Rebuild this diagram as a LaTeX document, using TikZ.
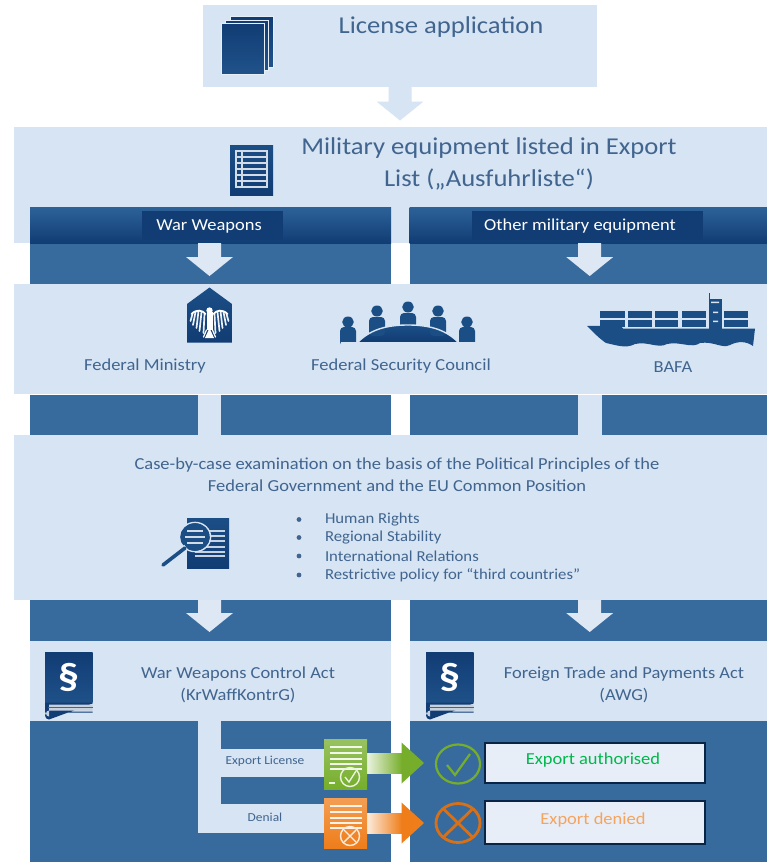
\documentclass[tikz,border=0pt]{standalone}
\usepackage{fontspec}
\setmainfont[FakeStretch=1.1]{Carlito}
\usetikzlibrary{calc}
\definecolor{lightb}{HTML}{D6E4F3}
\definecolor{arrowb}{HTML}{DDE8F4}
\definecolor{midb}{HTML}{376B9E}
\definecolor{darkb}{HTML}{113C74}
\definecolor{topb}{HTML}{2C6297}
\definecolor{txtb}{HTML}{41658F}
\definecolor{icon}{HTML}{1C4E86}
\definecolor{grn}{HTML}{76AE2B}
\definecolor{org}{HTML}{EF7D1A}
\definecolor{paper}{HTML}{E8EEF8}
\newcommand\rectnode[6]{\node[#6,anchor=north west,minimum width={(#4-#2)*1pt},minimum height={(#5-#3)*1pt}] (#1) at (#2,#3) {};}
% vertical block arrow from coordinate to coordinate
\newcommand\blockdown[3]{\fill[#1] let \p1=(#2),\p2=(#3) in (\x1-11.5pt,\y1) -- (\x1+11.5pt,\y1) -- (\x1+11.5pt,\y2+19pt) -- (\x1+23.5pt,\y2+19pt) -- (\x2,\y2) -- (\x1-23.5pt,\y2+19pt) -- (\x1-11.5pt,\y2+19pt) -- cycle;}
% horizontal result arrow
\newcommand\blockright[3]{
 \shade[left color=white!85!#1,right color=#1,shading angle=90,draw=none] let \p1=(#2),\p2=(#3) in (\x1,\y1+10pt) rectangle (\x2-22pt,\y1-10pt);
 \fill[#1] let \p1=(#2),\p2=(#3) in (\x2-22.5pt,\y2+20.5pt) -- (\x2,\y2) -- (\x2-22.5pt,\y2-20.5pt) -- cycle;}
% law book icon
\newcommand\lawbook[3]{
 \begin{scope}[shift={(#2,#3)}]
 \shade[top color=darkb,bottom color=icon!90!midb] (0,0) rectangle (47.5,50);
 \fill[darkb] (47.5,50) -- (0,50) -- (0,60) -- (47.5,60) -- (47.5,59) -- (4,59) arc[start angle=-90,end angle=-270,radius=4] -- (47.5,51) -- cycle;
 \fill[white!70!txtb] (4,52) -- (47.5,52) -- (47.5,58) -- (4,58) arc[start angle=-90,end angle=-270,radius=3] -- cycle;
 \draw[txtb,line width=1pt] (2.5,55) -- (47.5,55);
 \node[font=\bfseries\fontsize{38}{38}\selectfont,text=white,inner sep=0pt] (#1) at (23.5,25) {§};
 \end{scope}}
% certificate icon
\newcommand\certificate[6]{
 \begin{scope}[shift={(#2,#3)}]
 \shade[top color=#4!75!white,bottom color=#4] (0,0) rectangle (43,50);
 \foreach \yy in {8,14,20,25,30} \draw[white!90!#4,line width=1.3pt] (6,\yy) -- (38,\yy);
 \node[draw=white!85!#4,line width=1.4pt,circle,minimum size=19pt,inner sep=0pt] (#1) at (26,38) {};
 \draw[white!85!#4,line width=1.4pt] #5;
 #6
 \end{scope}}
\begin{document}
\begin{tikzpicture}[x=1pt,y=-1pt,
  every node/.style={inner sep=0pt,outer sep=0pt},
  lightbox/.style={fill=lightb,draw=none},
  midbox/.style={fill=midb,draw=none},
  headband/.style={top color=topb,bottom color=darkb,draw=none},
  labelbox/.style={fill=darkb,draw=none},
  result/.style={fill=paper,draw=darkb!60!black,line width=1.4pt},
  txt/.style={text=txtb,align=center,font=\fontsize{16.8}{22}\selectfont},
  bigtxt/.style={text=txtb,align=center,font=\fontsize{24.2}{32}\selectfont},
  smalltxt/.style={text=txtb,font=\fontsize{12.2}{14}\selectfont},
  wtxt/.style={text=white,font=\fontsize{16.8}{18}\selectfont},
  bullettxt/.style={text=txtb,anchor=west,font=\fontsize{15.2}{17}\selectfont},
]
\useasboundingbox (0,0) rectangle (767,862);
\fill[white] (0,0) rectangle (767,862);

% Main blocks
\rectnode{app}{203}{4.7}{597}{86.5}{lightbox}
\rectnode{mil}{14}{127}{767}{243}{lightbox}
\rectnode{bandL}{30}{243}{391}{284}{midbox}
\rectnode{bandR}{409.5}{243}{767}{284}{midbox}
\rectnode{headL}{30}{207.5}{391}{243}{headband}
\rectnode{headR}{409.5}{207.5}{767}{243}{headband}
\rectnode{labL}{142}{210.5}{283}{240}{labelbox}
\rectnode{labR}{472}{210.5}{703}{240}{labelbox}
\rectnode{auth}{14}{284}{767}{394}{lightbox}
\rectnode{b1}{30}{394.5}{198}{435}{midbox}
\rectnode{b2}{221}{394.5}{391}{435}{midbox}
\rectnode{b3}{409.5}{394.5}{578}{435}{midbox}
\rectnode{b4}{601.5}{394.5}{767}{435}{midbox}
\rectnode{linkL}{198}{394.5}{221}{435}{lightbox}
\rectnode{linkR}{578}{394.5}{601.5}{435}{lightbox}
\rectnode{exam}{14}{435}{767}{600}{lightbox}
\rectnode{lawbandL}{30}{600}{391}{641}{midbox}
\rectnode{lawbandR}{409.5}{600}{767}{641}{midbox}
\rectnode{lawL}{30}{641}{391}{721}{lightbox}
\rectnode{lawR}{409.5}{641}{767}{721}{lightbox}
\rectnode{footL}{30}{721}{391}{862}{midbox}
\rectnode{footR}{409.5}{721}{767}{862}{midbox}

% Light branch bars
\rectnode{trunk}{198}{721}{221}{832.7}{lightbox}
\rectnode{lic}{221}{748.6}{326}{776.5}{lightbox}
\rectnode{den}{221}{804}{326}{832.7}{lightbox}

% Block arrows
\coordinate (a1s) at (400,86.5); \coordinate (a1e) at (400,120.5);
\blockdown{lightb}{a1s}{a1e}
\coordinate (a2s) at (209.5,243); \coordinate (a2e) at (209.5,276);
\blockdown{arrowb}{a2s}{a2e}
\coordinate (a3s) at (589.7,243); \coordinate (a3e) at (589.7,276);
\blockdown{arrowb}{a3s}{a3e}
\coordinate (a4s) at (209.5,600); \coordinate (a4e) at (209.5,632);
\blockdown{arrowb}{a4s}{a4e}
\coordinate (a5s) at (589.7,600); \coordinate (a5e) at (589.7,632);
\blockdown{arrowb}{a5s}{a5e}

% Texts
\node[bigtxt] (tapp) at (441,27) {License application};
\node[bigtxt] (tmil) at (489,164) {Military equipment listed in Export\\List („Ausfuhrliste“)};
\node[wtxt] (tlabL) at (209,226.5) {War Weapons};
\node[wtxt] (tlabR) at (580,226.5) {Other military equipment};
\node[txt] (tfm) at (145,366.5) {Federal Ministry};
\node[txt] (tfsc) at (401,366.5) {Federal Security Council};
\node[txt] (tbafa) at (673,367) {BAFA};
\node[txt] (tcase) at (397,474.5) {Case-by-case examination on the basis of the Political Principles of the\\Federal Government and the EU Common Position};
\foreach \yy/\nm/\tt in {519.5/h/Human Rights,537.5/r/Regional Stability,556/i/International Relations,575/p/Restrictive policy for “third countries”}{
  \fill[txtb] (299,\yy) circle (2.4);
  \node[bullettxt] (t\nm) at (325,\yy) {\tt};
}
\node[txt] (twl) at (238,684.5) {War Weapons Control Act\\(KrWaffKontrG)};
\node[txt] (tfl) at (624,684.5) {Foreign Trade and Payments Act\\(AWG)};
\node[smalltxt] (tlic) at (265,761) {Export License};
\node[smalltxt] (tden) at (265,817) {Denial};

% Result boxes
\node[result,anchor=north west,minimum width=220pt,minimum height=40pt] (rok) at (485,743) {};
\node[result,anchor=north west,minimum width=220pt,minimum height=43pt] (rno) at (485,801) {};
\node[text=green!60!black!70!cyan,font=\fontsize{16.8}{18}\selectfont] (tok) at (593,760) {Export authorised};
\node[text=org!70!white,font=\fontsize{16.8}{18}\selectfont] (tno) at (593,820) {Export denied};

% Result arrows
\coordinate (g1) at (367,763); \coordinate (g2) at (424,763);
\blockright{grn}{g1}{g2}
\coordinate (o1) at (367,823); \coordinate (o2) at (424,823);
\blockright{org}{o1}{o2}

% Certificates
\certificate{cg}{324}{739}{grn}{(21,38) -- (25,43) -- (32,32)}{\draw[white!85!grn,line width=1.3pt] (5,44) -- (11,44);}
\certificate{co}{324}{798}{org}{(20,32) -- (32,44) (32,32) -- (20,44)}{}

% Status circles
\draw[grn,line width=2.2pt] (458,764) ellipse (22 and 19.5);
\draw[grn,line width=2.2pt] (447,765) -- (455,775) -- (470,754);
\draw[org!90!black,line width=2.8pt] (458,823) ellipse (22 and 19.5);
\draw[org!90!black,line width=2.8pt] (443,808.5) -- (473,837.5) (473,808.5) -- (443,837.5);

% Documents icon
\foreach \dx/\dy in {9/-7,4.5/-3.5,0/0}{
  \shade[top color=darkb,bottom color=icon!85!midb,draw=white!40!lightb,line width=.9pt] (221+\dx,23.5+\dy) rectangle (264+\dx,74+\dy);
}

% List icon
\shade[top color=icon,bottom color=darkb] (230,145) rectangle (273,195);
\draw[white!80!icon,line width=1.1pt] (236,151) rectangle (267,187);
\draw[white!80!icon,line width=1.1pt] (242,151) -- (242,187);
\foreach \yy in {157,163,169,175,181} \draw[white!80!icon,line width=1.1pt] (236,\yy) -- (267,\yy);

% Ministry icon (shield with eagle)
\shade[top color=icon,bottom color=darkb] (209.5,287.5) -- (232,304) -- (232,342.5) -- (187,342.5) -- (187,304) -- cycle;
\fill[white] (209.5,310.5) circle (3.2);
\fill[white] (206.5,312) rectangle (212.5,330);
\fill[white] (209.5,328) -- (214,338) -- (205,338) -- cycle;
\foreach \s in {-1,1}{
 \begin{scope}[shift={(209.5,0)},xscale=\s]
 \foreach \xa/\ya/\xb/\yb in {5/314/6/333,8/312/10/331,11/311/13/328,14/312/16.5/325,17/314/19/321}
   \draw[white!92!icon,line width=1.7pt,line cap=round] (\xa,\ya) -- (\xb,\yb);
 \draw[white,line width=1.8pt,line cap=round] (4,314) .. controls (7,310) and (13,309) .. (18,314);
 \draw[white,line width=1.2pt,line cap=round] (3,330) -- (6,337);
 \end{scope}
}

% Council icon
\shade[top color=icon,bottom color=darkb] (358,342) .. controls (372,328) and (390,325) .. (408,325) .. controls (426,325) and (444,328) .. (458,342) -- cycle;
\foreach \xx/\yy/\tp/\hh in {348/322/327/342,377/311/317/332,408/307/313/324,438/311/317/332,467/322/327/342}{
  \fill[icon] (\xx,\yy) ellipse (5.8 and 5.5);
  \fill[icon,rounded corners=4pt] (\xx-8,\hh+4) -- (\xx-8,\tp) -- (\xx+8,\tp) -- (\xx+8,\hh+4) -- cycle;
}
\fill[lightb] (341,342) rectangle (476,347);
\draw[lightb,line width=1.4pt] (358,342) .. controls (372,328) and (390,325) .. (408,325) .. controls (426,325) and (444,328) .. (458,342);

% Ship icon
\fill[icon] (587,326) -- (620,325.5) -- (623,328.5) -- (755,328.5) -- (753,346) .. controls (746,341) and (738,341) .. (730,345)
 .. controls (722,349) and (714,341) .. (700,343) .. controls (692,349) and (680,341) .. (667,344)
 .. controls (658,349) and (648,341) .. (635,344) .. controls (626,349) and (616,345) .. (606,343) .. controls (600,339) and (594,333) .. (587,326) -- cycle;
\foreach \xa/\xb in {600/625,628/652,655/678,682/706,724/748}{
  \fill[icon] (\xa,311) rectangle (\xb,318);
  \fill[icon] (\xa,320) rectangle (\xb,327);
}
\fill[icon] (709,299) rectangle (722,328.5);
\draw[icon,line width=.8pt] (709.5,293) -- (709.5,299);
\fill[white!85!icon] (711,301.5) rectangle (719,303) (713,311.5) rectangle (718,313) (713,320.5) rectangle (718,322);

% Magnifier icon
\shade[top color=icon,bottom color=darkb] (187,518) rectangle (229,568);
\foreach \yy in {531,536,541} \draw[white!75!icon,line width=1.2pt] (208,\yy) -- (225,\yy);
\foreach \yy in {547,552,556} \draw[white!75!icon,line width=1.2pt] (195,\yy) -- (225,\yy);
\fill[icon] (195,537) ellipse (14 and 13);
\foreach \yy/\ww in {531/8,537/10,543/8} \draw[white!80!icon,line width=1.8pt] (195-\ww,\yy) -- (195+\ww,\yy);
\draw[lightb,line width=1.6pt] (195,537) ellipse (15.5 and 14.5);
\draw[icon,line width=1.6pt] (195,537) ellipse (14 and 13);
\draw[lightb,line width=5.5pt] (186,547) -- (160,568);
\draw[icon,line width=3.6pt,line cap=round] (185,548) -- (163,565);

% Law books
\lawbook{sl}{45}{652.5}
\lawbook{sr}{426}{652.5}
\end{tikzpicture}
\end{document}
